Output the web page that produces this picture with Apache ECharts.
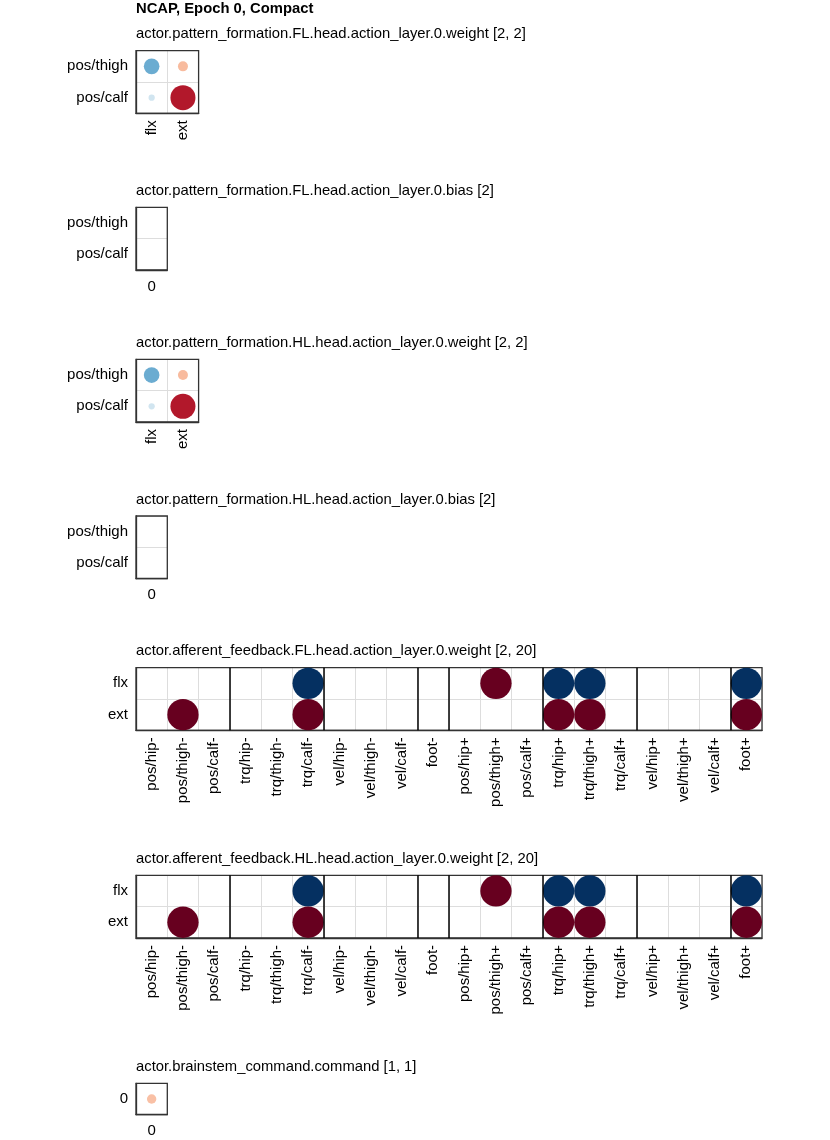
<!DOCTYPE html>
<html>
<head>
<meta charset="utf-8">
<script src="https://cdn.jsdelivr.net/npm/echarts@6/dist/echarts.min.js"></script>
<style>
  html, body { margin: 0; padding: 0; background: #fff; }
  #chart { width: 830px; height: 1140px; }
</style>
</head>
<body>
<div id="chart"></div>
<script>
// ---- labels ----
const figureTitle = 'NCAP, Epoch 0, Compact'
const actionInputs = ['pos/thigh', 'pos/calf']
const actionOutputs = ['flx', 'ext']
const biasCols = ['0']
const legInputs = ['pos/hip-', 'pos/thigh-', 'pos/calf-', 'trq/hip-', 'trq/thigh-', 'trq/calf-',
    'vel/hip-', 'vel/thigh-', 'vel/calf-', 'foot-', 'pos/hip+', 'pos/thigh+', 'pos/calf+',
    'trq/hip+', 'trq/thigh+', 'trq/calf+', 'vel/hip+', 'vel/thigh+', 'vel/calf+', 'foot+']
const legGroups = [3, 3, 3, 1, 3, 3, 3, 1]  // sizes of the blocks separated by black lines
const commandRows = ['0']
const commandCols = ['0']

// ---- values (rows x cols) ----
const flActionWeight = [[-0.5, 0.32], [-0.2, 0.8]]
const flActionBias = [[0], [0]]
const hlActionWeight = [[-0.5, 0.32], [-0.2, 0.8]]
const hlActionBias = [[0], [0]]
const flAfferentWeight = [
    [0, 0, 0, 0, 0, -1, 0, 0, 0, 0, 0, 1, 0, -1, -1, 0, 0, 0, 0, -1],
    [0, 1, 0, 0, 0, 1, 0, 0, 0, 0, 0, 0, 0, 1, 1, 0, 0, 0, 0, 1]
]
const hlAfferentWeight = [
    [0, 0, 0, 0, 0, -1, 0, 0, 0, 0, 0, 1, 0, -1, -1, 0, 0, 0, 0, -1],
    [0, 1, 0, 0, 0, 1, 0, 0, 0, 0, 0, 0, 0, 1, 1, 0, 0, 0, 0, 1]
]
const brainstemCommand = [[0.3]]

// RdBu, blue = negative, red = positive
const rdbu = ['#053061', '#2166ac', '#4393c3', '#92c5de', '#d1e5f0', '#f7f7f7',
    '#fddbc7', '#f4a582', '#d6604d', '#b2182b', '#67001f']

const panels = [
    {name: 'actor.pattern_formation.FL.head.action_layer.0.weight [2, 2]', rows: actionInputs, cols: actionOutputs, values: flActionWeight, top: 50.7},
    {name: 'actor.pattern_formation.FL.head.action_layer.0.bias [2]', rows: actionInputs, cols: biasCols, values: flActionBias, top: 207.3},
    {name: 'actor.pattern_formation.HL.head.action_layer.0.weight [2, 2]', rows: actionInputs, cols: actionOutputs, values: hlActionWeight, top: 359.4},
    {name: 'actor.pattern_formation.HL.head.action_layer.0.bias [2]', rows: actionInputs, cols: biasCols, values: hlActionBias, top: 516},
    {name: 'actor.afferent_feedback.FL.head.action_layer.0.weight [2, 20]', rows: actionOutputs, cols: legInputs, values: flAfferentWeight, top: 667.7, groups: legGroups},
    {name: 'actor.afferent_feedback.HL.head.action_layer.0.weight [2, 20]', rows: actionOutputs, cols: legInputs, values: hlAfferentWeight, top: 875.3, groups: legGroups},
    {name: 'actor.brainstem_command.command [1, 1]', rows: commandRows, cols: commandCols, values: brainstemCommand, top: 1083.3},
]

const cell = 31.3
const left = 136
const font = '"Liberation Sans", Arial, sans-serif'

let titles = [{text: figureTitle, left: left, top: 1, padding: 0,
    textStyle: {fontFamily: font, fontSize: 14.8, fontWeight: 'bold', color: '#000'}}]
let grids = [], xAxes = [], yAxes = [], series = []

panels.forEach((p, i) => {
    titles.push({text: p.name, left: left, top: p.top - 24, padding: 0,
        textStyle: {fontFamily: font, fontSize: 14.8, fontWeight: 'normal', color: '#000'}})
    grids.push({left: left, top: p.top, width: p.cols.length * cell, height: p.rows.length * cell,
        show: true, z: 1, borderColor: '#333', borderWidth: 1.3, backgroundColor: 'transparent'})
    const rotated = p.cols[0].length > 1
    const xi = xAxes.length
    xAxes.push({
        type: 'category', gridIndex: i, data: p.cols, position: 'bottom',
        axisLine: {show: true, onZero: false, lineStyle: {color: '#333', width: 1.3}},
        axisTick: {alignWithLabel: true, length: 4, lineStyle: {color: '#333'}},
        axisLabel: {rotate: rotated ? 90 : 0, interval: 0, margin: rotated ? 7 : 9,
            fontFamily: font, fontSize: 15, color: '#000'},
        splitLine: {show: true, lineStyle: {color: '#ddd', width: 1}}
    })
    yAxes.push({
        type: 'category', gridIndex: i, data: p.rows, inverse: true,
        axisLine: {show: true, onZero: false, lineStyle: {color: '#333', width: 1.3}},
        axisTick: {alignWithLabel: true, length: 4, lineStyle: {color: '#333'}},
        axisLabel: {interval: 0, margin: 8, fontFamily: font, fontSize: 15, color: '#000'},
        splitLine: {show: true, lineStyle: {color: '#ddd', width: 1}}
    })
    let data = []
    p.values.forEach((row, r) => row.forEach((v, c) => {
        if (v !== 0) data.push([c, r, v])
    }))
    series.push({
        type: 'scatter', xAxisIndex: xi, yAxisIndex: i, data: data,
        symbolSize: v => Math.abs(v[2]) * cell,
        itemStyle: {opacity: 1}, z: 3
    })
    if (p.groups) {
        // hidden value axis to place the block separators on cell edges
        const vi = xAxes.length
        xAxes.push({type: 'value', gridIndex: i, min: -0.5, max: p.cols.length - 0.5, show: false, position: 'top'})
        let edges = [], acc = 0
        p.groups.slice(0, -1).forEach(g => { acc += g; edges.push({xAxis: acc - 0.5}) })
        series.push({
            type: 'scatter', xAxisIndex: vi, yAxisIndex: i, data: [[0, 0]], symbolSize: 0,
            markLine: {silent: true, symbol: 'none', label: {show: false},
                lineStyle: {color: '#000', width: 1.5, type: 'solid'}, data: edges}
        })
    }
})

const chart = echarts.init(document.getElementById('chart'), null, {renderer: 'canvas'})
chart.setOption({
    animation: false,
    backgroundColor: '#fff',
    title: titles,
    grid: grids,
    xAxis: xAxes,
    yAxis: yAxes,
    visualMap: {show: false, type: 'continuous', dimension: 2, min: -1, max: 1,
        seriesIndex: series.map((s, k) => k).filter(k => !series[k].markLine),
        inRange: {color: rdbu}},
    series: series
})
</script>
</body>
</html>
